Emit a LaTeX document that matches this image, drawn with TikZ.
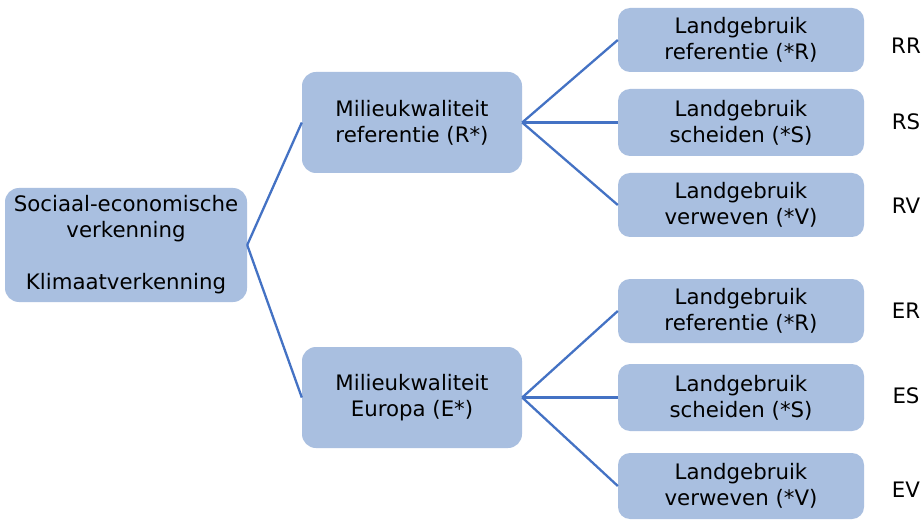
\documentclass[tikz,border=0pt]{standalone}
\usepackage{fontspec}
\setmainfont{DejaVu Sans}
\definecolor{boxfill}{HTML}{A9BFE0}
\definecolor{linkblue}{HTML}{4472C4}
\begin{document}
\begin{tikzpicture}[x=1pt,y=-1pt,
  box/.style={fill=boxfill,rounded corners=14pt,inner sep=0pt,align=center,
    font=\fontsize{21.3}{26}\selectfont,text=black},
  tag/.style={font=\fontsize{21.3}{26}\selectfont,anchor=center},
  link/.style={draw=linkblue,line width=2.3pt}]
\useasboundingbox[fill=white] (0,0) rectangle (923,521);
% root
\node[box,minimum width=242pt,minimum height=114pt] (root) at (126,245)
  {Sociaal-economische\\verkenning\\[26pt]Klimaatverkenning};
% second level
\node[box,minimum width=220pt,minimum height=101pt] (mr) at (412,122.5)
  {Milieukwaliteit\\referentie (R*)};
\node[box,minimum width=220pt,minimum height=101pt] (me) at (412,397.5)
  {Milieukwaliteit\\Europa (E*)};
% third level
\node[box,rounded corners=12pt,minimum width=246pt,minimum height=64pt] (rr) at (741,40) {Landgebruik\\referentie (*R)};
\node[box,rounded corners=12pt,minimum width=246pt,minimum height=67pt] (rs) at (741,122.5) {Landgebruik\\scheiden (*S)};
\node[box,rounded corners=12pt,minimum width=246pt,minimum height=64pt] (rv) at (741,205) {Landgebruik\\verweven (*V)};
\node[box,rounded corners=12pt,minimum width=246pt,minimum height=64pt] (er) at (741,311) {Landgebruik\\referentie (*R)};
\node[box,rounded corners=12pt,minimum width=246pt,minimum height=67pt] (es) at (741,397.5) {Landgebruik\\scheiden (*S)};
\node[box,rounded corners=12pt,minimum width=246pt,minimum height=66pt] (ev) at (741,486) {Landgebruik\\verweven (*V)};
% scenario codes
\node[tag] (trr) at (906,46) {RR};
\node[tag] (trs) at (906,122) {RS};
\node[tag] (trv) at (906,206) {RV};
\node[tag] (ter) at (906,311) {ER};
\node[tag] (tes) at (906,396) {ES};
\node[tag] (tev) at (906,490) {EV};
% connectors
\draw[link] (root.east) -- (mr.west);
\draw[link] (root.east) -- (me.west);
\foreach \t in {rr,rs,rv} \draw[link] (mr.east) -- (\t.west);
\foreach \t in {er,es,ev} \draw[link] (me.east) -- (\t.west);
\end{tikzpicture}
\end{document}
